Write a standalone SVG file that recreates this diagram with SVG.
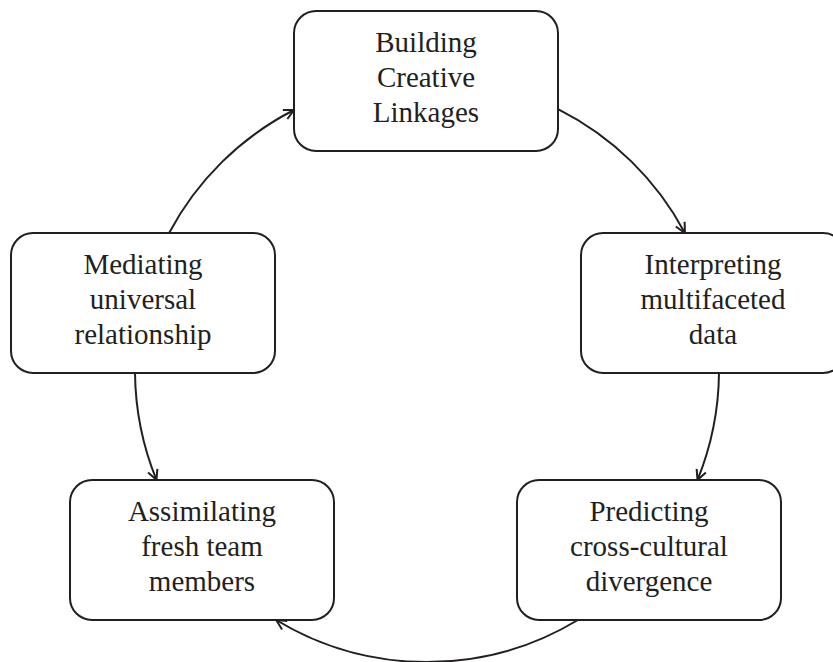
<svg xmlns="http://www.w3.org/2000/svg" width="833" height="662" viewBox="0 0 833 662">
<style>
.box{fill:#fff;stroke:#231f20;stroke-width:2}
.lbl{font-family:"Liberation Serif","Times New Roman",serif;font-size:29px;fill:#231f20;text-anchor:middle}
.con{fill:none;stroke:#231f20;stroke-width:2}
</style>
<defs>
<marker id="arr" viewBox="0 0 12 12" refX="11" refY="6" markerWidth="12" markerHeight="12" markerUnits="userSpaceOnUse" orient="auto">
<path d="M1,1 L11,6 L1,11" fill="none" stroke="#231f20" stroke-width="2"/>
</marker>
</defs>
<rect width="833" height="662" fill="#fff"/>
<g id="connectors">
<path class="con" d="M169.1,233 A292,292 0 0 1 294,110" marker-end="url(#arr)"/>
<path class="con" d="M558.5,109.3 A292,292 0 0 1 684.9,233" marker-end="url(#arr)"/>
<path class="con" d="M719,373 A292,292 0 0 1 697.5,480" marker-end="url(#arr)"/>
<path class="con" d="M577.9,620 A292,292 0 0 1 276.1,620" marker-end="url(#arr)"/>
<path class="con" d="M135,373 A292,292 0 0 0 156.5,480" marker-end="url(#arr)"/>
</g>
<g id="node-building">
<rect class="box" x="294" y="11" width="264" height="140" rx="22"/>
<text class="lbl" x="426" y="51.5">Building</text>
<text class="lbl" x="426" y="86.5">Creative</text>
<text class="lbl" x="426" y="122">Linkages</text>
</g>
<g id="node-mediating">
<rect class="box" x="11" y="233" width="264" height="140" rx="22"/>
<text class="lbl" x="143" y="273.5">Mediating</text>
<text class="lbl" x="143" y="308.5">universal</text>
<text class="lbl" x="143" y="344">relationship</text>
</g>
<g id="node-interpreting">
<rect class="box" x="581" y="233" width="264" height="140" rx="22"/>
<text class="lbl" x="713" y="273.5">Interpreting</text>
<text class="lbl" x="713" y="308.5">multifaceted</text>
<text class="lbl" x="713" y="344">data</text>
</g>
<g id="node-assimilating">
<rect class="box" x="70" y="480" width="264" height="140" rx="22"/>
<text class="lbl" x="202" y="520.5">Assimilating</text>
<text class="lbl" x="202" y="555.5">fresh team</text>
<text class="lbl" x="202" y="591">members</text>
</g>
<g id="node-predicting">
<rect class="box" x="517" y="480" width="264" height="140" rx="22"/>
<text class="lbl" x="649" y="520.5">Predicting</text>
<text class="lbl" x="649" y="555.5">cross-cultural</text>
<text class="lbl" x="649" y="591">divergence</text>
</g>
</svg>
